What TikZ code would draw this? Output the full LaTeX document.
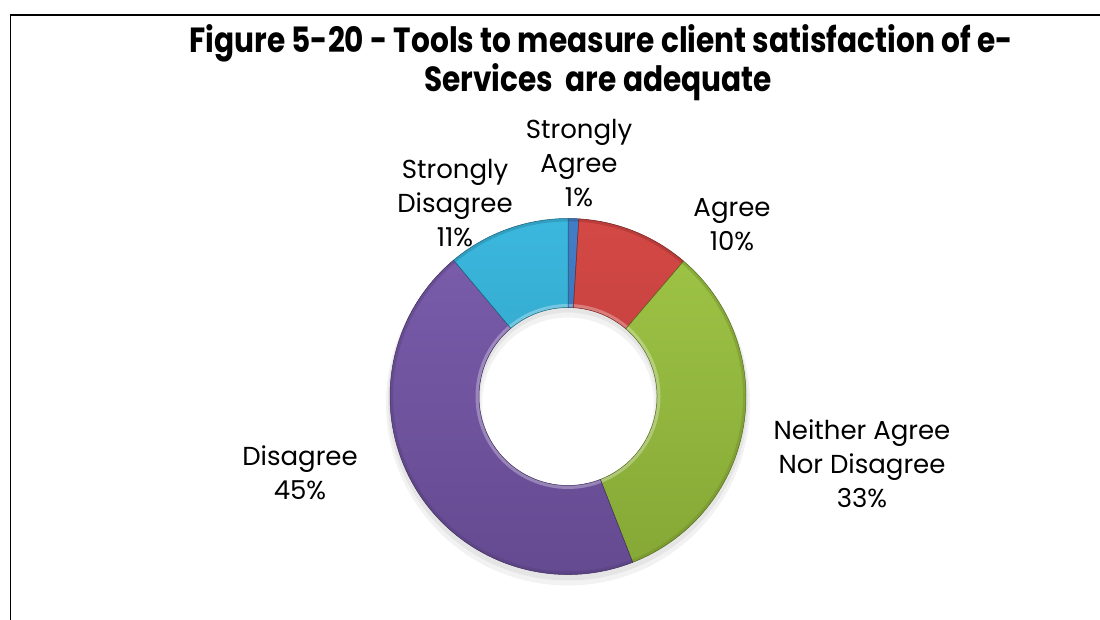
\documentclass[tikz,border=0pt]{standalone}
\usepackage{fontspec}
\setmainfont{Poppins}
\definecolor{cSA}{HTML}{3A78C4}
\definecolor{cAg}{HTML}{D2413E}
\definecolor{cNe}{HTML}{9CC43F}
\definecolor{cDi}{HTML}{7657AA}
\definecolor{cSD}{HTML}{33B4DC}
\newcommand{\ringslice}[3]{%
  \begin{scope}
    \clip (#1:178) arc[start angle=#1,end angle=#2,radius=178] -- (#2:89) arc[start angle=#2,end angle=#1,radius=89] -- cycle;
    \shade[top color=#3!96!white,bottom color=#3!85!black] (-182,-182) rectangle (182,182);
    \draw[white,opacity=0.3,line width=7pt] (0,0) circle[radius=89];
    \draw[#3!70!black,opacity=0.4,line width=6pt] (0,0) circle[radius=178];
  \end{scope}
  \draw[#3!55!black,line width=0.5pt] (#1:178) arc[start angle=#1,end angle=#2,radius=178] -- (#2:89) arc[start angle=#2,end angle=#1,radius=89] -- cycle;
}
\newsavebox{\tlineA}
\newsavebox{\tlineB}
\newlength{\tlen}
\begin{document}
\sbox{\tlineA}{\fontsize{28}{34}\selectfont\bfseries Figure 5-20 - Tools to measure client satisfaction of e-}%
\sbox{\tlineB}{\fontsize{28}{34}\selectfont\bfseries Services\ \ are adequate}%
\setlength{\tlen}{\wd\tlineA}%
\pgfmathsetmacro{\tscale}{823/\tlen}%
\pgfmathsetmacro{\tscaleY}{\tscale*1.18}%
\begin{tikzpicture}[x=1pt,y=1pt,
  lbl/.style={align=center,font=\fontsize{26}{34}\selectfont,inner sep=0pt,text=black}]
\useasboundingbox (0,0) rectangle (1100,619);
\fill[white] (0,0) rectangle (1100,619);
% frame
\coordinate (fb) at (10.5,-5);
\coordinate (ft) at (10.5,604);
\coordinate (fr) at (1105,604);
\draw[black,line width=1.6pt] (fb) -- (ft) -- (fr);
% title
\node[anchor=base,inner sep=0pt] (title1) at (601,566) {\scalebox{\tscale}[\tscaleY]{\usebox{\tlineA}}};
\node[anchor=base,inner sep=0pt] (title2) at (598,527) {\scalebox{\tscale}[\tscaleY]{\usebox{\tlineB}}};
% donut
\coordinate (c) at (568,222.5);
\begin{scope}[shift={(c)}]
  \fill[black,opacity=0.05,even odd rule] (0,-7) circle[radius=182] (0,-7) circle[radius=86];
  \fill[black,opacity=0.05,even odd rule] (0,-4) circle[radius=180] (0,-4) circle[radius=88];
  \ringslice{90}{86.5}{cSA}
  \ringslice{86.5}{49.5}{cAg}
  \ringslice{49.5}{-68.7}{cNe}
  \ringslice{-68.7}{-230}{cDi}
  \ringslice{-230}{-270}{cSD}
\end{scope}
% labels
\node[lbl] (lblSA) at (579,456) {Strongly\\Agree\\1\%};
\node[lbl] (lblSD) at (455,416) {Strongly\\Disagree\\11\%};
\node[lbl] (lblAg) at (732,394) {Agree\\10\%};
\node[lbl] (lblNe) at (862,155.5) {Neither Agree\\Nor Disagree\\33\%};
\node[lbl] (lblDi) at (300,146) {Disagree\\45\%};
\end{tikzpicture}
\end{document}
